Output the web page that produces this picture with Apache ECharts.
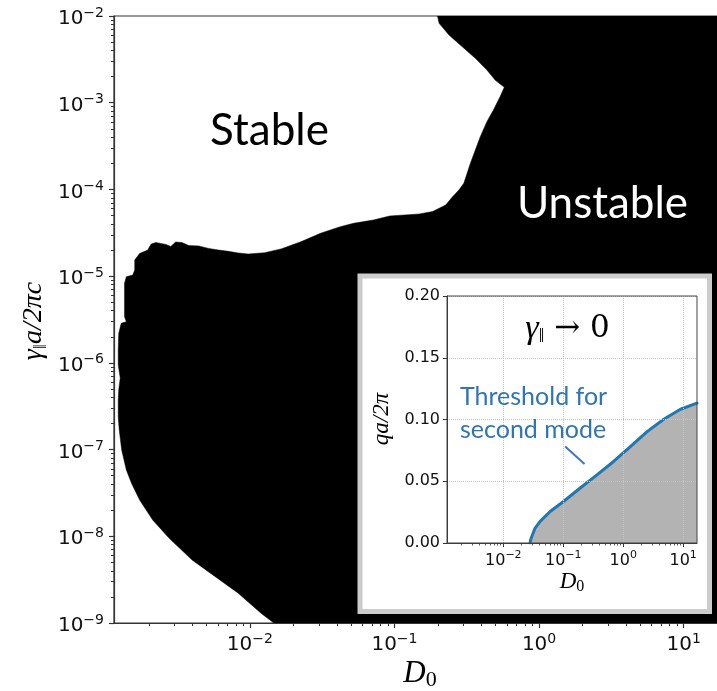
<!DOCTYPE html>
<html><head><meta charset="utf-8">
<script src="https://cdn.jsdelivr.net/npm/echarts@6/dist/echarts.min.js"></script>
<style>html,body{margin:0;padding:0;background:#fff}#c{width:717px;height:691px}</style>
</head><body><div id="c"></div>
<script>
// Stability boundary (D0, gamma_par a / 2 pi c): from bottom edge, up the left side, along the
// lower edge of the stable lobe, round its tip, back to the top edge. Black (unstable) lies to the right.
const boundaryD0 = [0.01466, 0.0120, 0.00832, 0.00577, 0.00399, 0.00277, 0.00213, 0.00173, 0.00152, 0.00140,
  0.00130, 0.00125, 0.00123, 0.00123, 0.00124, 0.00127, 0.00123, 0.00123, 0.00124, 0.00129,
  0.00140, 0.00136, 0.00136, 0.00140, 0.00155, 0.00160, 0.00160, 0.00173, 0.00197, 0.00202,
  0.00208, 0.00224, 0.00263, 0.00284, 0.00307, 0.00339, 0.00379, 0.00443, 0.00519, 0.00607,
  0.00711, 0.00832, 0.00974, 0.01266, 0.01643, 0.02252, 0.03083, 0.04224, 0.05216, 0.07142,
  0.09273, 0.1486, 0.1835, 0.2262, 0.2514, 0.2789, 0.3017, 0.3352, 0.3625, 0.3923,
  0.4358, 0.4834, 0.5373, 0.5749, 0.4966, 0.4358, 0.3625, 0.2942, 0.2382, 0.2036, 0.1985];
const boundaryGamma = [1e-9, 1.29e-9, 2.20e-9, 3.42e-9, 5.32e-9, 9.47e-9, 1.54e-8, 2.62e-8, 4.08e-8, 5.81e-8,
  9.88e-8, 1.68e-7, 2.39e-7, 3.73e-7, 4.86e-7, 6.68e-7, 9.44e-7, 1.41e-6, 2.19e-6, 2.86e-6,
  2.98e-6, 3.40e-6, 8.27e-6, 9.85e-6, 1.03e-5, 1.18e-5, 1.535e-5, 1.83e-5, 2.00e-5, 2.17e-5,
  2.35e-5, 2.44e-5, 2.32e-5, 2.20e-5, 2.475e-5, 2.44e-5, 2.25e-5, 2.23e-5, 2.09e-5, 2.00e-5,
  1.934e-5, 1.85e-5, 1.80e-5, 1.863e-5, 2.06e-5, 2.49e-5, 3.12e-5, 3.72e-5, 4.07e-5, 4.44e-5,
  4.94e-5, 5.21e-5, 5.56e-5, 6.61e-5, 8.18e-5, 9.85e-5, 1.177e-4, 2.0e-4, 2.85e-4, 4.06e-4,
  6.04e-4, 8.24e-4, 1.173e-3, 1.506e-3, 1.828e-3, 2.384e-3, 3.25e-3, 4.43e-3, 6.04e-3, 8.24e-3, 1e-2];

// Inset: threshold for second mode (gamma -> 0)
const insetD0 = [0.02796, 0.0285, 0.02985, 0.0339, 0.0411, 0.0604, 0.1007, 0.1917, 0.3646, 0.6911, 1.314, 2.5, 4.74, 9.01, 17];
const insetQ  = [0, 0.0025, 0.0053, 0.0121, 0.0175, 0.0255, 0.0336, 0.0445, 0.0552, 0.066, 0.0781, 0.0902, 0.1002, 0.1083, 0.1132];
// Annotation pointer in the inset
const pointerD0 = [0.1076, 0.2262];
const pointerQ  = [0.0781, 0.0639];

// Axes
const D0_MIN = 0.00115, D0_MAX = 17;
const G_MIN = 1e-9, G_MAX = 1e-2;
const Q_MIN = 0, Q_MAX = 0.2, Q_STEP = 0.05;
const xMajorTicks = [0.01, 0.1, 1, 10];
const yMajorTicks = [1e-9, 1e-8, 1e-7, 1e-6, 1e-5, 1e-4, 1e-3, 1e-2];

function minorTicks(lo, hi) {
  const out = [];
  for (let e = -10; e <= 2; e++) for (let k = 2; k <= 9; k++) {
    const v = parseFloat((k * Math.pow(10, e)).toPrecision(6));
    if (v > lo && v < hi) out.push(v);
  }
  return out;
}
const xMinor = minorTicks(D0_MIN, D0_MAX);
const yMinor = minorTicks(G_MIN, G_MAX);

function pow10(v) {
  const e = Math.round(Math.log10(v));
  return '{b|10}{s|' + (e < 0 ? '\u2212' + (-e) : String(e)) + '}';
}
const TXT = '#111';
const richMain = {
  b: {fontFamily: 'DejaVu Sans', fontSize: 20, lineHeight: 26, color: TXT},
  s: {fontFamily: 'DejaVu Sans', fontSize: 14, lineHeight: 14, verticalAlign: 'top', color: TXT}
};
const richInset = {
  b: {fontFamily: 'DejaVu Sans', fontSize: 16, lineHeight: 21, color: TXT},
  s: {fontFamily: 'DejaVu Sans', fontSize: 11, lineHeight: 11, verticalAlign: 'top', color: TXT}
};
const AX = '#333';

function logAxis(gridIndex, ticks, opts) {
  return Object.assign({
    type: 'log', logBase: 10, gridIndex: gridIndex, min: D0_MIN, max: D0_MAX,
    axisLine: {show: true, onZero: false, lineStyle: {color: AX, width: 1.2}},
    axisTick: {show: true, inside: false, customValues: ticks, length: 5, lineStyle: {color: AX, width: 1.2}},
    axisLabel: {show: false},
    splitLine: {show: false}, minorTick: {show: false}, minorSplitLine: {show: false}
  }, opts);
}

const chart = echarts.init(document.getElementById('c'), null, {renderer: 'canvas'});
const option = {
  animation: false,
  backgroundColor: '#fff',
  grid: [
    {left: 114, top: 16, width: 611, height: 607, show: true, borderColor: AX, borderWidth: 1.2, backgroundColor: 'transparent', containLabel: false},
    {left: 447, top: 296, width: 250, height: 247, show: true, borderColor: '#444', borderWidth: 1, backgroundColor: 'transparent', z: 25, containLabel: false}
  ],
  xAxis: [
    logAxis(0, xMajorTicks, {position: 'bottom',
      axisLabel: {show: true, customValues: xMajorTicks, formatter: pow10, rich: richMain, margin: 9}}),
    logAxis(0, xMinor, {position: 'bottom', axisLine: {show: false},
      axisTick: {show: true, customValues: xMinor, length: 3, lineStyle: {color: AX, width: 1}}}),
    logAxis(1, xMajorTicks, {position: 'bottom', z: 21,
      axisTick: {show: true, customValues: xMajorTicks, length: 4, lineStyle: {color: AX, width: 1}},
      axisLine: {show: true, onZero: false, lineStyle: {color: AX, width: 1}},
      axisLabel: {show: true, customValues: xMajorTicks, formatter: pow10, rich: richInset, margin: 7},
      splitLine: {show: true, lineStyle: {color: '#c4c4c4', type: 'dotted', width: 1}}}),
    logAxis(1, xMinor, {position: 'bottom', z: 21, axisLine: {show: false},
      axisTick: {show: true, customValues: xMinor, length: 2.5, lineStyle: {color: AX, width: 0.8}}})
  ],
  yAxis: [
    {type: 'log', logBase: 10, gridIndex: 0, min: G_MIN, max: G_MAX, position: 'left',
      axisLine: {show: true, onZero: false, lineStyle: {color: AX, width: 1.2}},
      axisTick: {show: true, customValues: yMajorTicks, length: 5, lineStyle: {color: AX, width: 1.2}},
      axisLabel: {show: true, customValues: yMajorTicks, formatter: pow10, rich: richMain, margin: 10, padding: [6, 0, 0, 0]},
      splitLine: {show: false}, minorTick: {show: false}},
    {type: 'log', logBase: 10, gridIndex: 0, min: G_MIN, max: G_MAX, position: 'left',
      axisLine: {show: false},
      axisTick: {show: true, customValues: yMinor, length: 3, lineStyle: {color: AX, width: 1}},
      axisLabel: {show: false}, splitLine: {show: false}, minorTick: {show: false}},
    {type: 'value', gridIndex: 1, min: Q_MIN, max: Q_MAX, interval: Q_STEP, position: 'left', z: 21,
      axisLine: {show: true, onZero: false, lineStyle: {color: AX, width: 1}},
      axisTick: {show: true, length: 4, lineStyle: {color: AX, width: 1}},
      axisLabel: {show: true, margin: 7, fontFamily: 'DejaVu Sans', fontSize: 16, color: TXT,
        formatter: v => v.toFixed(2)},
      splitLine: {show: true, lineStyle: {color: '#c4c4c4', type: 'dotted', width: 1}}}
  ],
  graphic: {elements: [
    {type: 'rect', z: 10, silent: true, shape: {x: 360, y: 276, width: 349.5, height: 335.5},
      style: {fill: '#fff', stroke: '#cccccc', lineWidth: 5}},
    {type: 'text', z: 30, x: 269.5, y: 131, style: {text: 'Stable', fontFamily: 'Lato', fontSize: 44, fill: '#000', align: 'center', verticalAlign: 'middle'}},
    {type: 'text', z: 30, x: 602.5, y: 204, style: {text: 'Unstable', fontFamily: 'Lato', fontSize: 44, fill: '#fff', align: 'center', verticalAlign: 'middle'}},
    {type: 'text', z: 30, x: 460, y: 397, style: {text: 'Threshold for', fontFamily: 'Lato', fontSize: 25, fill: '#2e75b6', align: 'left', verticalAlign: 'middle'}},
    {type: 'text', z: 30, x: 460, y: 430, style: {text: 'second mode', fontFamily: 'Lato', fontSize: 25, fill: '#2e75b6', align: 'left', verticalAlign: 'middle'}},
    {type: 'text', z: 30, x: 567.5, y: 329, style: {text: '{g|\u03b3}{p|\u2016}{r| \u2192 0}', align: 'center', verticalAlign: 'middle',
      rich: {
        g: {fontFamily: 'Liberation Serif', fontStyle: 'italic', fontSize: 34, lineHeight: 36, color: '#000'},
        p: {fontFamily: 'Liberation Serif', fontSize: 20, lineHeight: 20, verticalAlign: 'bottom', color: '#000'},
        r: {fontFamily: 'DejaVu Serif', fontSize: 31, lineHeight: 36, color: '#000'}
      }}},
    {type: 'text', z: 30, x: 34, y: 321, rotation: Math.PI / 2, style: {text: '{g|\u03b3}{p|\u2016}{m|a/2\u03c0c}', align: 'center', verticalAlign: 'middle',
      rich: {
        g: {fontFamily: 'Liberation Serif', fontStyle: 'italic', fontSize: 28, lineHeight: 32, color: '#222'},
        p: {fontFamily: 'Liberation Serif', fontSize: 18, lineHeight: 18, verticalAlign: 'bottom', color: '#222'},
        m: {fontFamily: 'Liberation Serif', fontStyle: 'italic', fontSize: 28, lineHeight: 32, color: '#222'}
      }}},
    {type: 'text', z: 30, x: 420, y: 674, style: {text: '{d|D}{s|0}', align: 'center', verticalAlign: 'middle',
      rich: {
        d: {fontFamily: 'Liberation Serif', fontStyle: 'italic', fontSize: 31, lineHeight: 34, color: '#222'},
        s: {fontFamily: 'Liberation Serif', fontSize: 22, lineHeight: 22, verticalAlign: 'bottom', color: '#222'}
      }}},
    {type: 'text', z: 30, x: 382, y: 419, rotation: Math.PI / 2, style: {text: '{m|qa/2\u03c0}', align: 'center', verticalAlign: 'middle',
      rich: {m: {fontFamily: 'Liberation Serif', fontStyle: 'italic', fontSize: 23, lineHeight: 26, color: '#222'}}}},
    {type: 'text', z: 30, x: 572, y: 582, style: {text: '{d|D}{s|0}', align: 'center', verticalAlign: 'middle',
      rich: {
        d: {fontFamily: 'Liberation Serif', fontStyle: 'italic', fontSize: 23, lineHeight: 26, color: '#222'},
        s: {fontFamily: 'Liberation Serif', fontSize: 16, lineHeight: 16, verticalAlign: 'bottom', color: '#222'}
      }}}
  ]},
  series: [
    {type: 'custom', name: 'Unstable', xAxisIndex: 0, yAxisIndex: 0, z: 2, clip: true, silent: true,
      data: [[boundaryD0[0], boundaryGamma[0]]],
      renderItem: function (params, api) {
        const pts = boundaryD0.map((d, i) => api.coord([d, boundaryGamma[i]]));
        pts.push(api.coord([D0_MAX, G_MAX]));
        pts.push(api.coord([D0_MAX, G_MIN]));
        return {type: 'polygon', shape: {points: pts}, style: {fill: '#000', stroke: '#000', lineWidth: 0.5}};
      }},
    {type: 'line', name: 'Threshold', xAxisIndex: 2, yAxisIndex: 2, z: 20, silent: true,
      data: insetD0.map((d, i) => [d, insetQ[i]]),
      showSymbol: false, smooth: false,
      lineStyle: {color: '#1f77b4', width: 3, join: 'round', cap: 'round'},
      areaStyle: {color: '#b3b3b3', opacity: 1}},
    {type: 'line', name: 'Pointer', xAxisIndex: 2, yAxisIndex: 2, z: 22, silent: true,
      data: pointerD0.map((d, i) => [d, pointerQ[i]]),
      showSymbol: false, lineStyle: {color: '#4472c4', width: 2}}
  ]
};
chart.setOption(option);
</script>
</body></html>
